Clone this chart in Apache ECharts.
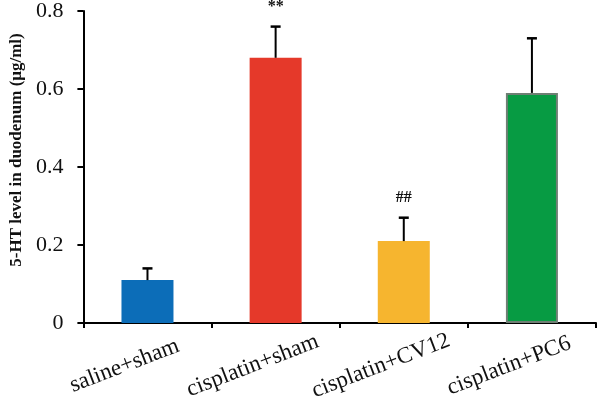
<!DOCTYPE html>
<html>
<head>
<meta charset="utf-8">
<script src="https://cdn.jsdelivr.net/npm/echarts@6/dist/echarts.min.js"></script>
<style>html,body{margin:0;padding:0;background:#fff}#c{width:600px;height:405px}</style>
</head>
<body>
<div id="c"></div>
<script>
const categories = ['saline+sham', 'cisplatin+sham', 'cisplatin+CV12', 'cisplatin+PC6'];
const means = [0.11, 0.68, 0.21, 0.59];
const errors = [0.03, 0.08, 0.06, 0.14];
const sigMarks = ['', '**', '##', ''];
const barColors = ['#0c6db8', '#e5392a', '#f6b52f', '#079b43'];
const barBorders = ['#0c6db8', '#e5392a', '#f6b52f', '#6f7f74'];
const yTicks = ['0', '0.2', '0.4', '0.6', '0.8'];
const yName = '5-HT level in duodenum (μg/ml)';

const serif = 'Liberation Serif';
const chart = echarts.init(document.getElementById('c'));
const errData = means.map((m, i) => [i, m, m + errors[i]]);

chart.setOption({
  animation: false,
  grid: { left: 82, right: 4, top: 11, bottom: 82, containLabel: false },
  xAxis: {
    type: 'category',
    data: categories,
    axisLine: { lineStyle: { color: '#000', width: 2 } },
    axisTick: { show: true, length: 5, lineStyle: { color: '#000', width: 2 } },
    axisLabel: {
      rotate: 21, align: 'center', verticalAlign: 'middle', margin: 34,
      padding: [0, 49, 0, 0],
      color: '#111', fontFamily: serif, fontSize: 23, interval: 0
    }
  },
  yAxis: {
    type: 'value', min: 0, max: 0.8, interval: 0.2,
    name: yName, nameLocation: 'middle', nameGap: 58, nameRotate: 90,
    nameTextStyle: { fontFamily: serif, fontWeight: 'bold', fontSize: 17, color: '#111', padding: [0, 0, 0, 34] },
    axisLine: { show: true, lineStyle: { color: '#000', width: 2 } },
    axisTick: { show: true, length: 6, lineStyle: { color: '#000', width: 2 } },
    splitLine: { show: false },
    axisLabel: {
      margin: 20, color: '#111', fontFamily: serif, fontSize: 22,
      formatter: (v) => yTicks[Math.round(v / 0.2)]
    }
  },
  series: [
    {
      type: 'bar', barWidth: 52,
      data: means.map((m, i) => ({
        value: m,
        itemStyle: { color: barColors[i], borderColor: barBorders[i], borderWidth: i === 3 ? 2 : 0 }
      }))
    },
    {
      type: 'custom', z: 5,
      data: errData,
      renderItem: function (params, api) {
        const base = api.coord([api.value(0), api.value(1)]);
        const top = api.coord([api.value(0), api.value(2)]);
        const x = base[0];
        const children = [
          { type: 'line', shape: { x1: x, y1: base[1], x2: x, y2: top[1] }, style: { stroke: '#000', lineWidth: 2 } },
          { type: 'line', shape: { x1: x - 5, y1: top[1], x2: x + 5, y2: top[1] }, style: { stroke: '#000', lineWidth: 2.5 } }
        ];
        const s = sigMarks[params.dataIndex];
        if (s) {
          children.push({
            type: 'text',
            style: { text: s, x: x, y: top[1] - 12, textAlign: 'center', textVerticalAlign: 'bottom',
              fill: '#111', fontFamily: serif, fontWeight: 'bold', fontSize: 16 }
          });
        }
        return { type: 'group', children: children };
      }
    }
  ]
});
</script>
</body>
</html>
